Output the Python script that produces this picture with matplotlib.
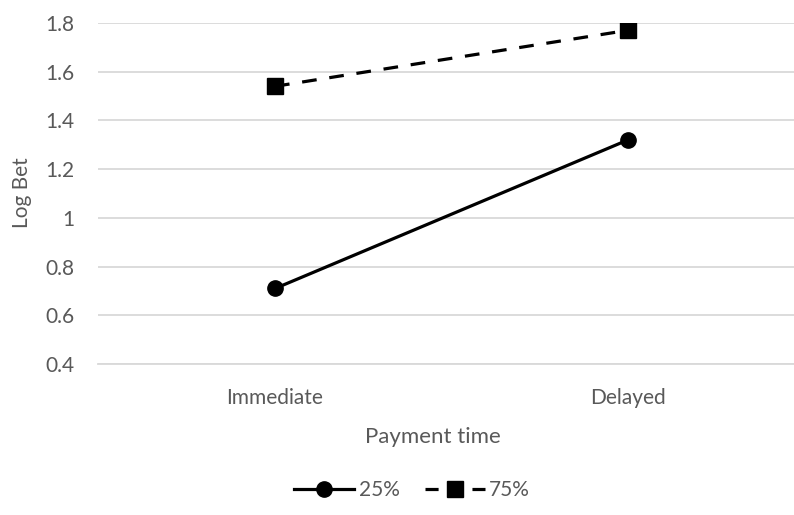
import matplotlib
matplotlib.use("Agg")
import matplotlib.pyplot as plt

# mean log bet by payment time, one series per probability level
categories = ["Immediate", "Delayed"]
series_names = ["25%", "75%"]
low_prob = [0.71, 1.32]
high_prob = [1.54, 1.77]
yticks = [0.4, 0.6, 0.8, 1.0, 1.2, 1.4, 1.6, 1.8]
ytick_labels = ["0.4", "0.6", "0.8", "1", "1.2", "1.4", "1.6", "1.8"]

plt.rcParams["font.family"] = ["Lato", "DejaVu Sans"]
text_col = "#595959"
grid_col = "#d9d9d9"
fs = 15

W, H = 794, 515
fig = plt.figure(figsize=(W / 100, H / 100), dpi=100)

# plot area: x from 98px, y 0.4 at 364px, 1.8 at 23px
left, right = 98, 794
bottom, top = 364, 23
ax = fig.add_axes([left / W, 1 - bottom / H, (right - left) / W, (bottom - top) / H])

x = list(range(len(categories)))
ax.plot(x, low_prob, color="black", lw=2.3, marker="o", ms=11,
        label=series_names[0], zorder=3)
ax.plot(x, high_prob, color="black", lw=2.3, marker="s", ms=11,
        linestyle=(0, (4.6, 4.0)), label=series_names[1], zorder=3)

# category centres at 275px and 628px
px_per_unit = 628 - 275
ax.set_xlim(-(275 - left) / px_per_unit, (right - 275) / px_per_unit)
ax.set_ylim(0.4, 1.8)

ax.set_xticks(x)
ax.set_xticklabels(categories)
ax.set_yticks(yticks)
ax.set_yticklabels(ytick_labels)
ax.tick_params(axis="both", length=0, labelsize=fs, labelcolor=text_col)
ax.tick_params(axis="y", pad=17)
ax.tick_params(axis="x", pad=17)

ax.grid(axis="y", color=grid_col, lw=1.3)
ax.set_axisbelow(True)
for s in ["top", "right", "left"]:
    ax.spines[s].set_visible(False)
ax.spines["bottom"].set_color(grid_col)
ax.spines["bottom"].set_linewidth(1.3)

fig.text(22 / W, 1 - 193 / H, "Log Bet", rotation=90, ha="center", va="center",
         fontsize=fs, color=text_col)
fig.text(433 / W, 1 - 437 / H, "Payment time", ha="center", va="center",
         fontsize=16, color=text_col)

leg = fig.legend(loc="center", bbox_to_anchor=(412 / W, 1 - 490 / H), ncol=2,
                 frameon=False, fontsize=fs, handlelength=2.9,
                 columnspacing=1.2, handletextpad=0.2)
for t in leg.get_texts():
    t.set_color(text_col)
# symmetric dashes either side of the square in the legend key
leg.get_lines()[1].set_linestyle((0, (4.1, 10.6)))

fig.savefig("out.png", dpi=100)
